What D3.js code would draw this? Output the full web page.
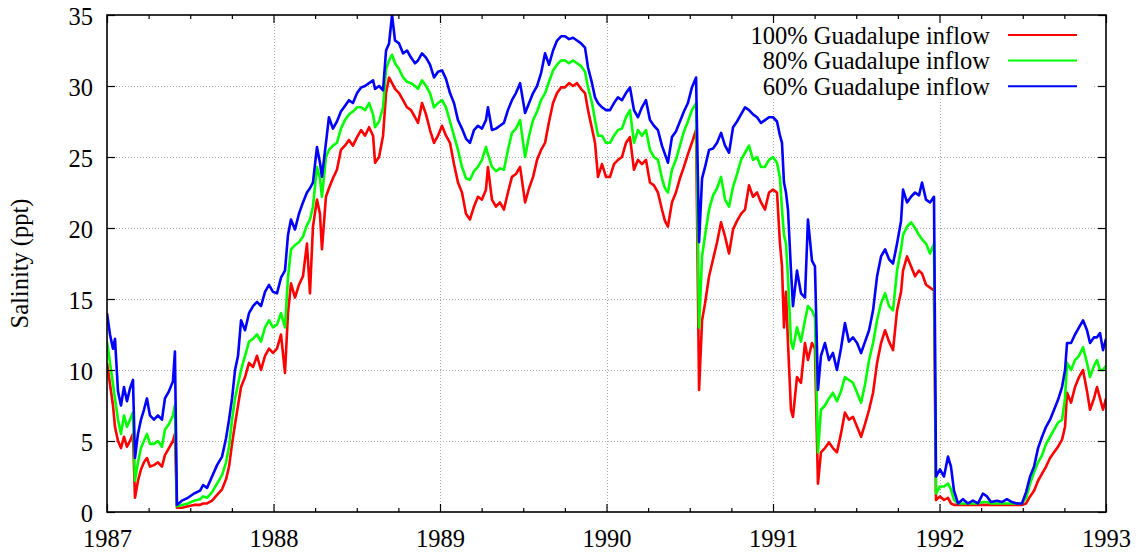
<!DOCTYPE html>
<html>
<head>
<meta charset="utf-8">
<script src="https://cdn.jsdelivr.net/npm/d3@7"></script>
<style>
	body { margin: 0; background: #fff; }
	svg { display: block; }
</style>
</head>
<body>
<div id="chart"></div>
<script>
// Sample dates (decimal years) shared by the three runs
const years = [
	1987.000,1987.018,1987.036,1987.048,1987.066,1987.084,1987.102,1987.120,1987.138,1987.156,
	1987.168,1987.186,1987.204,1987.222,1987.240,1987.258,1987.282,1987.306,1987.330,1987.348,
	1987.372,1987.396,1987.408,1987.420,1987.450,1987.486,1987.523,1987.559,1987.577,1987.601,
	1987.631,1987.661,1987.691,1987.715,1987.733,1987.751,1987.769,1987.787,1987.805,1987.829,
	1987.853,1987.877,1987.901,1987.925,1987.949,1987.973,1987.997,
	1988.021,1988.045,1988.069,1988.087,1988.105,1988.129,1988.153,1988.177,1988.201,1988.219,
	1988.237,1988.261,1988.279,1988.291,1988.315,1988.333,1988.357,1988.381,1988.405,1988.429,
	1988.453,1988.477,1988.502,1988.526,1988.550,1988.574,1988.598,1988.610,1988.634,1988.658,
	1988.676,1988.694,1988.712,1988.730,1988.754,1988.778,1988.802,1988.826,1988.850,1988.868,
	1988.892,1988.916,1988.940,1988.964,1988.988,
	1989.012,1989.036,1989.060,1989.084,1989.108,1989.132,1989.156,1989.180,1989.204,1989.228,
	1989.252,1989.276,1989.288,1989.312,1989.336,1989.360,1989.384,1989.408,1989.432,1989.456,
	1989.481,1989.511,1989.535,1989.559,1989.583,1989.607,1989.631,1989.655,1989.679,1989.703,
	1989.727,1989.751,1989.775,1989.799,1989.823,1989.847,1989.871,1989.889,1989.913,1989.931,
	1989.949,1989.973,1989.997,
	1990.021,1990.045,1990.069,1990.093,1990.117,1990.141,1990.165,1990.189,1990.213,1990.237,
	1990.261,1990.285,1990.309,1990.333,1990.351,1990.369,1990.393,1990.417,1990.441,1990.465,
	1990.489,1990.513,1990.538,1990.556,1990.574,1990.592,1990.616,1990.640,1990.664,1990.688,
	1990.712,1990.736,1990.760,1990.784,1990.808,1990.832,1990.856,1990.880,1990.904,1990.928,
	1990.952,1990.976,
	1991.000,1991.024,1991.042,1991.054,1991.066,1991.078,1991.090,1991.108,1991.120,1991.144,
	1991.168,1991.192,1991.210,1991.234,1991.252,1991.270,1991.288,1991.312,1991.336,1991.360,
	1991.384,1991.408,1991.432,1991.456,1991.480,1991.505,1991.529,1991.553,1991.577,1991.601,
	1991.625,1991.649,1991.673,1991.697,1991.721,1991.745,1991.769,1991.781,1991.805,1991.829,
	1991.853,1991.877,1991.895,1991.919,1991.943,1991.967,1991.979,
	1992.003,1992.027,1992.051,1992.069,1992.087,1992.111,1992.141,1992.171,1992.201,1992.231,
	1992.261,1992.285,1992.309,1992.345,1992.375,1992.405,1992.435,1992.465,1992.495,1992.520,
	1992.544,1992.568,1992.592,1992.616,1992.640,1992.664,1992.688,1992.712,1992.736,1992.754,
	1992.766,1992.790,1992.814,1992.838,1992.862,1992.886,1992.904,1992.928,1992.946,1992.964,
	1992.982,1993.000
];

// Salinity (ppt), 100% Guadalupe inflow
const inflow100 = [
	10.5,9.0,7.5,6.0,5.0,4.5,5.3,4.6,5.0,5.5,
	1.0,2.2,3.0,3.5,3.8,3.2,3.3,3.5,3.2,4.0,
	4.5,5.0,5.5,0.3,0.3,0.4,0.5,0.5,0.6,0.6,
	0.8,1.2,1.6,2.3,3.2,4.8,6.2,7.5,8.8,9.5,
	10.5,10.2,11.0,10.0,11.0,11.5,11.2,
	11.5,12.5,9.8,14.0,16.1,15.1,16.0,16.6,18.9,15.4,
	20.1,22.0,21.0,18.5,22.2,22.8,23.5,24.1,25.5,25.8,
	26.2,25.8,26.4,26.9,26.5,27.1,26.5,24.6,25.0,26.5,
	29.5,30.6,30.2,29.8,29.5,29.0,28.5,28.3,27.8,27.4,
	28.8,28.0,26.9,26.0,26.5,
	27.2,26.5,26.0,24.5,23.2,22.5,21.0,20.6,21.5,22.2,
	22.0,22.7,24.3,22.0,21.5,21.8,21.3,22.5,23.6,23.8,
	24.3,21.8,22.8,23.6,24.8,25.5,26.0,27.5,28.8,29.5,
	29.9,29.9,30.2,30.0,30.2,29.8,29.5,28.3,27.0,26.0,
	23.6,24.5,23.6,
	23.6,24.5,24.8,25.0,26.0,26.4,24.1,24.8,24.5,24.8,
	23.2,23.0,22.5,21.3,20.5,20.1,21.8,22.5,23.5,24.3,
	25.2,26.0,26.9,8.6,13.5,14.7,16.6,17.8,19.0,20.4,
	19.4,18.2,19.9,20.5,21.0,21.3,23.0,22.2,22.5,21.8,
	21.3,22.5,
	22.7,22.5,18.9,17.3,13.0,15.5,11.9,7.2,6.7,9.5,
	9.1,11.9,10.7,11.9,11.5,2.0,4.2,4.5,4.9,4.5,
	4.2,5.5,7.0,6.5,6.7,6.0,5.3,6.2,7.2,8.4,
	10.5,11.9,12.8,12.0,11.4,14.2,15.5,17.0,18.0,17.3,
	16.6,17.0,16.8,16.0,15.8,15.6,0.85,
	1.1,0.85,1.0,0.6,0.5,0.5,0.5,0.5,0.5,0.5,
	0.5,0.5,0.5,0.5,0.5,0.5,0.5,0.5,0.5,0.6,
	1.1,1.5,2.2,2.7,3.2,3.8,4.2,4.6,5.1,6.0,
	8.4,7.7,8.8,9.5,10.0,8.5,7.2,8.0,8.8,8.0,7.2,8.0
];

// Salinity (ppt), 80% Guadalupe inflow
const inflow80 = [
	12.0,10.5,9.0,8.0,6.5,5.5,6.8,6.0,6.5,7.0,
	2.2,3.5,4.5,5.0,5.5,4.8,4.8,5.0,4.6,5.8,
	6.2,6.8,7.5,0.4,0.5,0.6,0.8,0.9,1.1,1.0,
	1.4,2.0,2.6,3.5,4.6,6.5,8.0,9.0,10.0,11.0,
	12.0,12.2,12.5,12.0,13.0,13.5,13.0,
	13.2,14.0,13.0,16.5,18.5,18.8,19.0,19.4,20.2,20.6,
	21.5,24.3,23.5,22.2,25.0,25.5,25.8,26.0,27.0,27.6,
	28.0,28.2,28.5,28.5,28.3,28.8,28.0,27.1,27.5,28.5,
	31.2,31.8,32.2,31.6,31.2,30.6,30.3,30.2,30.0,29.8,
	30.4,30.0,29.5,28.5,28.8,
	29.0,28.5,27.5,26.5,25.5,24.3,23.5,23.4,24.0,24.3,
	24.8,25.7,25.2,24.3,24.0,24.2,24.1,25.5,26.7,27.0,
	27.6,25.0,26.5,27.6,28.2,29.0,29.5,30.3,31.1,31.5,
	31.8,31.8,31.6,31.8,31.6,31.4,31.0,29.9,28.8,27.6,
	26.5,26.5,26.0,
	26.0,26.5,26.9,27.0,27.8,28.3,26.0,26.9,26.5,26.9,
	25.5,25.0,24.8,23.5,22.8,22.5,24.1,24.8,25.8,26.8,
	27.5,28.3,28.8,13.0,18.0,19.5,21.3,22.3,22.8,23.6,
	22.0,21.5,22.9,23.8,24.8,25.3,25.8,24.8,25.0,24.3,
	24.3,24.8,
	25.0,24.6,23.5,21.3,19.5,18.9,16.5,12.0,11.5,13.0,
	12.0,13.5,14.5,14.2,13.7,4.2,7.2,7.5,8.0,8.4,
	7.8,8.5,9.5,9.3,9.1,8.4,7.7,9.0,10.7,11.9,
	13.5,14.7,15.4,14.5,14.2,17.0,18.5,19.5,20.1,20.4,
	20.0,19.5,19.2,18.9,18.2,18.9,1.3,
	1.8,1.8,2.0,1.6,0.85,0.6,0.6,0.6,0.6,0.6,
	0.7,0.7,0.6,0.6,0.6,0.6,0.6,0.6,0.6,1.0,
	2.0,2.8,3.5,4.0,4.8,5.3,5.8,6.3,6.5,8.0,
	10.5,10.0,10.7,11.0,11.6,10.5,9.5,10.3,10.7,10.0,10.0,10.3
];

// Salinity (ppt), 60% Guadalupe inflow
const inflow60 = [
	14.0,12.5,11.5,12.2,8.5,7.5,8.8,7.8,8.7,9.3,
	3.8,5.5,6.5,7.2,8.0,6.8,6.5,6.8,6.5,8.0,
	8.5,9.2,11.3,0.5,0.8,1.0,1.3,1.5,1.9,1.7,
	2.5,3.3,3.9,5.2,6.5,8.0,10.0,11.0,13.5,12.8,
	14.0,14.5,14.8,14.5,15.5,16.0,15.5,
	15.4,16.5,17.0,19.5,20.6,19.9,21.0,21.8,22.5,22.8,
	23.2,25.7,24.6,23.6,26.0,27.8,27.0,27.5,28.2,28.6,
	29.0,28.8,29.5,29.9,30.0,30.2,30.4,29.8,30.0,29.7,
	32.5,33.0,35.0,33.2,33.0,32.3,32.5,32.0,31.6,31.8,
	32.3,32.0,31.5,30.6,31.0,
	31.1,30.5,29.5,28.8,27.6,27.0,26.3,26.0,26.9,27.2,
	27.0,27.6,28.5,26.9,27.0,27.2,27.4,28.3,29.0,29.5,
	30.2,28.1,28.8,29.5,30.0,30.9,32.3,31.5,32.5,33.2,
	33.5,33.5,33.3,33.4,33.2,33.0,32.7,31.3,30.2,29.2,
	28.8,28.5,28.3,
	28.3,28.8,29.2,29.0,29.5,29.9,28.3,27.8,28.5,29.0,
	27.6,27.2,26.9,25.8,25.2,24.6,26.4,26.8,27.5,28.2,
	28.8,29.9,30.6,19.0,23.5,24.3,25.5,25.6,26.0,26.7,
	25.8,25.3,27.1,27.5,28.0,28.5,28.3,28.0,27.8,27.4,
	27.6,27.8,
	27.8,27.5,26.5,26.0,23.2,22.5,21.3,17.0,14.5,17.0,
	15.4,15.1,20.6,17.7,17.3,8.6,11.0,11.9,10.7,11.2,
	10.0,11.5,13.3,12.0,12.3,11.9,11.2,12.0,12.8,14.2,
	16.6,18.0,18.5,17.8,17.5,18.9,20.5,22.7,21.8,22.2,
	22.5,22.3,23.2,22.0,21.8,22.2,2.5,
	3.0,2.5,3.9,3.2,1.5,0.6,0.9,0.6,0.8,0.6,
	1.3,1.1,0.7,0.8,0.7,0.9,0.7,0.6,0.6,1.4,
	2.5,3.2,4.5,5.3,6.0,6.5,7.2,7.9,8.8,10.0,
	11.9,11.9,12.5,13.0,13.5,12.8,11.9,12.3,12.3,12.6,11.4,12.2
];

const seriesNames = ["100% Guadalupe inflow", "80% Guadalupe inflow", "60% Guadalupe inflow"];
const seriesColors = ["#ff0000", "#00ff00", "#0000ff"];
const yearTicks = [1987, 1988, 1989, 1990, 1991, 1992, 1993];
const salinityTicks = [0, 5, 10, 15, 20, 25, 30, 35];

const width = 1142, height = 555;
const plot = { left: 107, right: 1106, top: 15, bottom: 512 };
const fontFamily = '"Liberation Serif", "Times New Roman", serif';
const fontSize = "24.5px";

const x = d3.scaleLinear().domain([1987, 1993]).range([plot.left, plot.right]);
const y = d3.scaleLinear().domain([0, 35]).range([plot.bottom, plot.top]);

// quarter-year minor ticks
const minorTicks = d3.range(1987, 1993.01, 0.25).filter((t) => !yearTicks.includes(t));

const svg = d3.select("#chart").append("svg").attr("width", width).attr("height", height);

// Grid (dotted)
const grid = svg.append("g").attr("stroke", "#a8a8a8").attr("stroke-width", 1).attr("stroke-dasharray", "1,2");
grid.selectAll(".gy")
	.data(salinityTicks.filter((v) => v > 0 && v < 35))
	.join("line")
	.attr("x1", plot.left).attr("x2", plot.right)
	.attr("y1", (d) => Math.round(y(d)) + 0.5).attr("y2", (d) => Math.round(y(d)) + 0.5);
grid.selectAll(".gx")
	.data(yearTicks.slice(1, -1))
	.join("line")
	.attr("y1", plot.top).attr("y2", plot.bottom)
	.attr("x1", (d) => Math.round(x(d)) + 0.5).attr("x2", (d) => Math.round(x(d)) + 0.5);

// gnuplot leaves the grid out behind the key
svg.append("rect")
	.attr("x", 677).attr("y", plot.top)
	.attr("width", 416).attr("height", 84)
	.attr("fill", "#fff");

// Data lines
svg.append("clipPath").attr("id", "clip")
	.append("rect")
	.attr("x", plot.left).attr("y", plot.top)
	.attr("width", plot.right - plot.left).attr("height", plot.bottom - plot.top);

const runs = [inflow100, inflow80, inflow60].map((vals, i) => ({
	name: seriesNames[i],
	color: seriesColors[i],
	values: years.map((t, j) => [t, vals[j]]).filter((d) => d[1] != null),
}));

const line = d3.line().x((d) => x(d[0])).y((d) => y(d[1]));

svg.append("g").attr("clip-path", "url(#clip)")
	.selectAll("path")
	.data(runs)
	.join("path")
	.attr("fill", "none")
	.attr("stroke", (d) => d.color)
	.attr("stroke-width", 2.6)
	.attr("stroke-linejoin", "round")
	.attr("d", (d) => line(d.values));

// Axes (ticks inward, mirrored)
function styleAxis(g) {
	g.select(".domain").remove();
	g.attr("color", "#000");
	g.selectAll(".tick line").attr("stroke-width", 1.2);
}

svg.append("g")
	.attr("transform", `translate(0,${plot.bottom})`)
	.call(d3.axisBottom(x).tickValues(yearTicks).tickFormat(d3.format("d")).tickSize(-8))
	.call(styleAxis)
	.call((g) => g.selectAll("text").attr("y", 35).attr("dy", null).attr("fill", "#000"));
svg.append("g")
	.attr("transform", `translate(0,${plot.bottom})`)
	.call(d3.axisBottom(x).tickValues(minorTicks).tickFormat("").tickSize(-4))
	.call(styleAxis);
svg.append("g")
	.attr("transform", `translate(0,${plot.top})`)
	.call(d3.axisTop(x).tickValues(yearTicks).tickFormat("").tickSize(-8))
	.call(styleAxis);
svg.append("g")
	.attr("transform", `translate(0,${plot.top})`)
	.call(d3.axisTop(x).tickValues(minorTicks).tickFormat("").tickSize(-4))
	.call(styleAxis);

svg.append("g")
	.attr("transform", `translate(${plot.left},0)`)
	.call(d3.axisLeft(y).tickValues(salinityTicks).tickSize(-8))
	.call(styleAxis)
	.call((g) => g.selectAll("text").attr("x", -14).attr("dy", "0.4em").attr("fill", "#000"));
svg.append("g")
	.attr("transform", `translate(${plot.right},0)`)
	.call(d3.axisRight(y).tickValues(salinityTicks).tickFormat("").tickSize(-8))
	.call(styleAxis);

// Frame
svg.append("rect")
	.attr("x", plot.left).attr("y", plot.top)
	.attr("width", plot.right - plot.left).attr("height", plot.bottom - plot.top)
	.attr("fill", "none").attr("stroke", "#000").attr("stroke-width", 1.6);

// Y axis title
svg.append("text")
	.attr("transform", `translate(28,${(plot.top + plot.bottom) / 2}) rotate(-90)`)
	.attr("text-anchor", "middle")
	.text("Salinity (ppt)");

// Key
const key = svg.append("g")
	.selectAll("g")
	.data(runs)
	.join("g")
	.attr("transform", (d, i) => `translate(0,${35 + i * 25.6})`);
key.append("text")
	.attr("x", 990).attr("y", 8.5)
	.attr("text-anchor", "end")
	.text((d) => d.name);
key.append("line")
	.attr("x1", 1008).attr("x2", 1077)
	.attr("stroke", (d) => d.color).attr("stroke-width", 2);

// one font for every label
svg.selectAll("text")
	.style("font-family", fontFamily)
	.style("font-size", fontSize)
	.style("fill", "#000");
</script>
</body>
</html>
